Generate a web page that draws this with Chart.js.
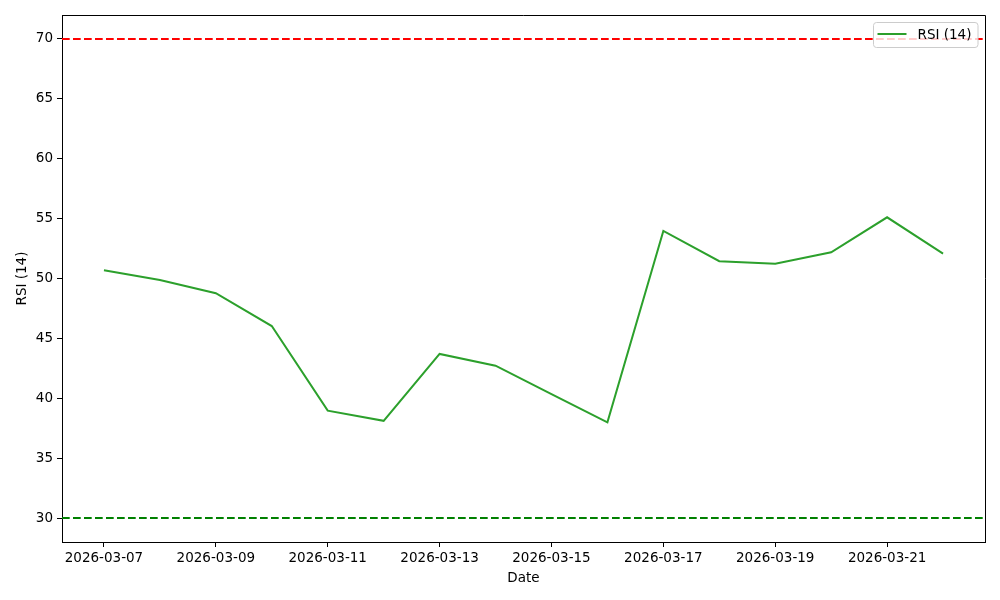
<!DOCTYPE html>
<html lang="en">
<head>
    <meta charset="UTF-8">
    <title>RSI (14)</title>
    <script src="https://cdn.jsdelivr.net/npm/chart.js"></script>
    <style>
        html, body { margin: 0; padding: 0; background: #fff; }
        #wrap { width: 1000px; height: 600px; }
    </style>
</head>
<body>
    <div id="wrap"><canvas id="rsiChart" width="1000" height="600"></canvas></div>
    <script>
        // daily dates, one per RSI value
        var dates = ['2026-03-07', '2026-03-08', '2026-03-09', '2026-03-10', '2026-03-11', '2026-03-12',
                     '2026-03-13', '2026-03-14', '2026-03-15', '2026-03-16', '2026-03-17', '2026-03-18',
                     '2026-03-19', '2026-03-20', '2026-03-21', '2026-03-22'];
        var rsi = [50.68, 49.87, 48.77, 46.03, 38.97, 38.12, 43.70, 42.72, 40.35, 37.99,
                   53.97, 51.44, 51.24, 52.19, 55.11, 52.08];
        var xTickIdx = [0, 2, 4, 6, 8, 10, 12, 14];   // every other day gets a label
        var yTicks = [30, 35, 40, 45, 50, 55, 60, 65, 70];
        var overbought = 70;
        var oversold = 30;

        var FONT = 'DejaVu Sans';

        var points = rsi.map(function (v, i) { return { x: i, y: v }; });

        // dashed 70 / 30 reference lines, legend and top/right frame
        var extras = {
            id: 'extras',
            afterDatasetsDraw: function (chart) {
                var c = chart.ctx, a = chart.chartArea, ys = chart.scales.y;
                c.save();
                c.beginPath();
                c.rect(a.left, a.top, a.right - a.left, a.bottom - a.top);
                c.clip();
                c.lineWidth = 2;
                c.setLineDash([7.7, 3.3]);
                [[overbought, '#ff0000'], [oversold, '#008000']].forEach(function (h) {
                    var py = ys.getPixelForValue(h[0]);
                    c.strokeStyle = h[1];
                    c.beginPath();
                    c.moveTo(a.left, py);
                    c.lineTo(a.right, py);
                    c.stroke();
                });
                c.restore();
            },
            afterDraw: function (chart) {
                var c = chart.ctx, a = chart.chartArea;
                c.save();
                // legend box
                var bx = a.right - 111.5, by = a.top + 7.5, bw = 104.5, bh = 25, r = 3;
                c.beginPath();
                c.moveTo(bx + r, by);
                c.arcTo(bx + bw, by, bx + bw, by + bh, r);
                c.arcTo(bx + bw, by + bh, bx, by + bh, r);
                c.arcTo(bx, by + bh, bx, by, r);
                c.arcTo(bx, by, bx + bw, by, r);
                c.closePath();
                c.fillStyle = 'rgba(255,255,255,0.8)';
                c.fill();
                c.strokeStyle = '#cccccc';
                c.lineWidth = 1;
                c.stroke();
                c.strokeStyle = '#2ca02c';
                c.lineWidth = 2;
                c.beginPath();
                c.moveTo(bx + 4, by + 11.5);
                c.lineTo(bx + 33, by + 11.5);
                c.stroke();
                c.fillStyle = '#000';
                c.font = '13.5px "' + FONT + '"';
                c.textBaseline = 'middle';
                c.fillText('RSI (14)', bx + 44, by + 12.5);
                // top and right spines
                c.strokeStyle = '#000';
                c.lineWidth = 1;
                c.beginPath();
                c.moveTo(a.left, a.top + 0.5);
                c.lineTo(a.right + 0.5, a.top + 0.5);
                c.lineTo(a.right + 0.5, a.bottom);
                c.stroke();
                c.restore();
            }
        };

        new Chart(document.getElementById('rsiChart').getContext('2d'), {
            type: 'line',
            data: {
                datasets: [{
                    label: 'RSI (14)',
                    data: points,
                    borderColor: '#2ca02c',
                    backgroundColor: '#2ca02c',
                    borderWidth: 2,
                    pointRadius: 0,
                    tension: 0,
                    fill: false
                }]
            },
            options: {
                responsive: false,
                animation: false,
                layout: { padding: { top: 15, right: 15, left: 0, bottom: 0 } },
                plugins: { legend: { display: false }, tooltip: { enabled: false } },
                scales: {
                    x: {
                        type: 'linear',
                        min: -0.75,
                        max: 15.75,
                        afterBuildTicks: function (s) {
                            s.ticks = xTickIdx.map(function (v) { return { value: v }; });
                        },
                        afterFit: function (s) { s.height = 58; },
                        ticks: {
                            color: '#000',
                            font: { family: FONT, size: 13.5 },
                            padding: 3,
                            maxRotation: 0,
                            autoSkip: false,
                            callback: function (v) { return dates[v]; }
                        },
                        grid: { drawOnChartArea: false, drawTicks: true, tickLength: 5, color: '#000' },
                        border: { display: true, color: '#000', width: 1 },
                        title: {
                            display: true, text: 'Date', color: '#000',
                            font: { family: FONT, size: 13.5 },
                            padding: { top: 0, bottom: 13 }
                        }
                    },
                    y: {
                        min: 28,
                        max: 72,
                        afterBuildTicks: function (s) {
                            s.ticks = yTicks.map(function (v) { return { value: v }; });
                        },
                        afterFit: function (s) { s.width = 62; },
                        ticks: {
                            color: '#000',
                            font: { family: FONT, size: 13.5 },
                            padding: 4
                        },
                        grid: { drawOnChartArea: false, drawTicks: true, tickLength: 5, color: '#000' },
                        border: { display: true, color: '#000', width: 1 },
                        title: {
                            display: true, text: 'RSI (14)', color: '#000',
                            font: { family: FONT, size: 13.5 },
                            padding: { top: 14, bottom: 0 }
                        }
                    }
                }
            },
            plugins: [extras]
        });
    </script>
</body>
</html>
